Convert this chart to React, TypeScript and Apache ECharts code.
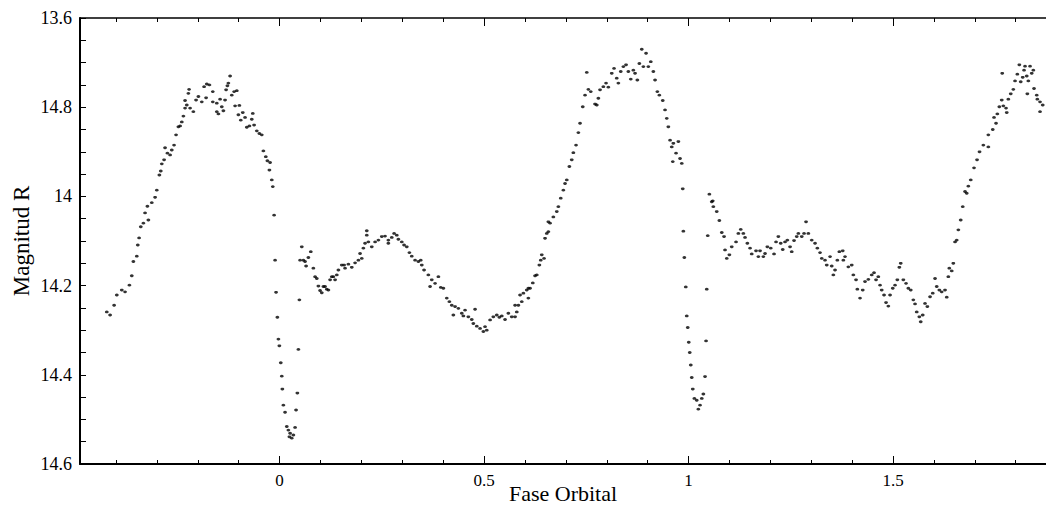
import React, { useEffect, useRef } from "react";
import * as echarts from "echarts";

// Tick labels (as printed on the reference)
const yTickLabels = ["13.6", "14.8", "14", "14.2", "14.4", "14.6"];
const xMajorTicks = [0, 0.5, 1, 1.5];
const xMinorTicks = [-0.4, -0.3, -0.2, -0.1, 0, 0.1, 0.2, 0.3, 0.4, 0.5, 0.6, 0.7, 0.8, 0.9, 1, 1.1, 1.2, 1.3, 1.4, 1.5, 1.6, 1.7, 1.8];

// Observations [orbital phase, R magnitude]
const firstMaximum: [number, number][] = [
  [-0.4225, 14.259], [-0.4144, 14.266], [-0.4046, 14.244], [-0.398, 14.221], [-0.3858, 14.21], [-0.3778, 14.214],
  [-0.3672, 14.199], [-0.3614, 14.178], [-0.3575, 14.146], [-0.3491, 14.134], [-0.3467, 14.109], [-0.3435, 14.093],
  [-0.3394, 14.068], [-0.333, 14.06], [-0.3289, 14.037], [-0.3208, 14.053], [-0.3232, 14.022], [-0.3125, 14.014],
  [-0.3044, 14.002], [-0.3002, 13.986], [-0.2939, 13.952], [-0.2905, 13.943], [-0.288, 13.927], [-0.2824, 13.918],
  [-0.28, 13.891], [-0.2743, 13.903], [-0.2677, 13.907], [-0.2636, 13.896], [-0.258, 13.885], [-0.2531, 13.862],
  [-0.2474, 13.844], [-0.2433, 13.842], [-0.2391, 13.833], [-0.2352, 13.82], [-0.2311, 13.802], [-0.2269, 13.795],
  [-0.2311, 13.785], [-0.223, 13.769], [-0.2213, 13.76], [-0.2188, 13.802], [-0.2108, 13.81], [-0.2042, 13.784],
  [-0.1985, 13.776], [-0.1902, 13.788], [-0.1846, 13.754], [-0.178, 13.748], [-0.1716, 13.75], [-0.1797, 13.779],
  [-0.1633, 13.765], [-0.1633, 13.788], [-0.1535, 13.791], [-0.1535, 13.81], [-0.1496, 13.815], [-0.1455, 13.782],
  [-0.1413, 13.799], [-0.1374, 13.808], [-0.1333, 13.784], [-0.1308, 13.761], [-0.1276, 13.752], [-0.1252, 13.746],
  [-0.121, 13.73], [-0.1169, 13.773], [-0.1112, 13.765], [-0.1046, 13.763], [-0.1088, 13.797], [-0.0983, 13.796],
  [-0.1007, 13.817], [-0.0949, 13.829], [-0.09, 13.812], [-0.0844, 13.823], [-0.0802, 13.845], [-0.0738, 13.842],
  [-0.068, 13.827], [-0.0655, 13.814], [-0.0623, 13.84], [-0.0557, 13.853], [-0.0494, 13.859], [-0.0435, 13.862],
  [-0.0396, 13.898], [-0.0337, 13.911], [-0.0298, 13.92], [-0.0232, 13.924], [-0.0249, 13.941], [-0.0191, 13.963],
  [-0.0166, 13.978],
];

const primaryEclipse: [number, number][] = [
  [-0.0134, 14.042], [-0.011, 14.143], [-0.0086, 14.215], [-0.0054, 14.271], [-0.0029, 14.32], [-0.0005, 14.335],
  [0.0029, 14.373], [0.0054, 14.403], [0.0068, 14.432], [0.0093, 14.468], [0.0134, 14.484], [0.0176, 14.516],
  [0.0215, 14.524], [0.0257, 14.531], [0.0298, 14.542], [0.024, 14.539], [0.0337, 14.535], [0.0379, 14.518],
  [0.0403, 14.479], [0.0435, 14.441], [0.046, 14.343], [0.0484, 14.232],
];

const firstPlateau: [number, number][] = [
  [0.0543, 14.113], [0.0501, 14.143], [0.0582, 14.143], [0.0623, 14.146], [0.0763, 14.124], [0.0704, 14.137],
  [0.0648, 14.156], [0.0826, 14.161], [0.0868, 14.18], [0.091, 14.184], [0.0949, 14.201], [0.099, 14.211],
  [0.1032, 14.216], [0.1071, 14.202], [0.1112, 14.202], [0.1154, 14.208], [0.1193, 14.21], [0.1235, 14.187],
  [0.1276, 14.18], [0.1315, 14.18], [0.1357, 14.187], [0.1399, 14.176], [0.1438, 14.165], [0.1521, 14.154],
  [0.1577, 14.154], [0.1601, 14.161], [0.1682, 14.152], [0.1765, 14.159], [0.1846, 14.149], [0.1927, 14.143],
  [0.1968, 14.128], [0.201, 14.139], [0.2049, 14.116], [0.209, 14.105], [0.2132, 14.087], [0.2132, 14.077],
  [0.2171, 14.102], [0.2254, 14.113], [0.2335, 14.102], [0.2416, 14.098], [0.2499, 14.09], [0.2579, 14.089],
  [0.266, 14.098], [0.266, 14.105], [0.2743, 14.092], [0.28, 14.083], [0.2866, 14.087], [0.2905, 14.096],
  [0.2988, 14.102], [0.3044, 14.109], [0.311, 14.113], [0.3174, 14.126], [0.3232, 14.134], [0.3313, 14.143],
  [0.3394, 14.146], [0.3477, 14.154], [0.3452, 14.143], [0.3533, 14.165], [0.3638, 14.176], [0.3721, 14.187],
  [0.368, 14.202], [0.3802, 14.195], [0.3883, 14.18], [0.3941, 14.204], [0.4005, 14.206], [0.4088, 14.228],
  [0.4152, 14.236], [0.421, 14.244], [0.4291, 14.247], [0.4249, 14.266], [0.4372, 14.251], [0.4455, 14.262],
  [0.4535, 14.255], [0.4494, 14.268], [0.4616, 14.27], [0.4699, 14.276], [0.478, 14.253], [0.4738, 14.285],
  [0.4822, 14.291], [0.4902, 14.296], [0.4983, 14.303], [0.5066, 14.3], [0.5024, 14.292], [0.5147, 14.277],
  [0.5227, 14.27], [0.5311, 14.266], [0.5374, 14.271], [0.5433, 14.268], [0.5513, 14.276], [0.5594, 14.262],
  [0.5677, 14.27], [0.5758, 14.27], [0.5758, 14.244], [0.58, 14.259], [0.5839, 14.244], [0.588, 14.221],
  [0.5922, 14.236], [0.5961, 14.217], [0.6044, 14.21], [0.6083, 14.206], [0.6083, 14.228], [0.6125, 14.206],
  [0.6191, 14.194], [0.6247, 14.178], [0.6289, 14.176], [0.6352, 14.154], [0.6386, 14.143], [0.6411, 14.131],
  [0.6467, 14.139],
];

const secondMaximum: [number, number][] = [
  [0.6491, 14.094], [0.6533, 14.083], [0.6572, 14.057], [0.6572, 14.079], [0.6614, 14.06], [0.6694, 14.046],
  [0.6778, 14.034], [0.6817, 14.023], [0.6875, 14.004], [0.6939, 13.986], [0.698, 13.971], [0.7022, 13.963],
  [0.7086, 13.933], [0.7144, 13.918], [0.7183, 13.902], [0.7249, 13.885], [0.7306, 13.857], [0.7347, 13.836],
  [0.7413, 13.799], [0.7469, 13.773], [0.7511, 13.722], [0.755, 13.76], [0.7609, 13.765], [0.7714, 13.793],
  [0.7756, 13.795], [0.7795, 13.78], [0.7836, 13.761], [0.7917, 13.754], [0.7983, 13.746], [0.8039, 13.755],
  [0.8122, 13.724], [0.8178, 13.713], [0.8244, 13.735], [0.8284, 13.746], [0.8342, 13.72], [0.8406, 13.709],
  [0.8472, 13.705], [0.8528, 13.72], [0.8587, 13.737], [0.865, 13.717], [0.8692, 13.724], [0.8748, 13.739],
  [0.8797, 13.702], [0.8856, 13.67], [0.8895, 13.709], [0.8961, 13.679], [0.9017, 13.709], [0.9076, 13.698],
  [0.9139, 13.72], [0.9181, 13.739], [0.9237, 13.765], [0.9286, 13.773], [0.9369, 13.785], [0.9425, 13.806],
  [0.9467, 13.825], [0.9506, 13.844], [0.9548, 13.874], [0.9589, 13.889], [0.9628, 13.881], [0.9694, 13.903],
  [0.9751, 13.877], [0.9614, 13.922], [0.9792, 13.915], [0.9834, 13.926], [0.9858, 13.983],
];

const secondEclipse: [number, number][] = [
  [0.9873, 14.078], [0.9897, 14.137], [0.9932, 14.203], [0.9956, 14.268], [0.998, 14.294], [1.0005, 14.327],
  [1.0029, 14.35], [1.0054, 14.378], [1.0078, 14.406], [1.0103, 14.432], [1.0142, 14.453], [1.02, 14.457],
  [1.0239, 14.477], [1.0281, 14.468], [1.0323, 14.453], [1.0362, 14.443], [1.0403, 14.404], [1.0428, 14.324],
  [1.0445, 14.208], [1.0469, 14.088],
];

const secondPlateau: [number, number][] = [
  [1.0509, 13.995], [1.0567, 14.012], [1.0606, 14.023], [1.0592, 14.01], [1.0689, 14.034], [1.0753, 14.054],
  [1.0812, 14.081], [1.0868, 14.09], [1.0892, 14.12], [1.0934, 14.139], [1.0998, 14.131], [1.1056, 14.113],
  [1.1161, 14.102], [1.1218, 14.083], [1.1276, 14.074], [1.134, 14.083], [1.1381, 14.092], [1.1438, 14.105],
  [1.1504, 14.116], [1.1545, 14.129], [1.165, 14.122], [1.1707, 14.135], [1.1748, 14.122], [1.1829, 14.135],
  [1.187, 14.128], [1.1927, 14.113], [1.201, 14.116], [1.209, 14.129], [1.2139, 14.102], [1.2196, 14.09],
  [1.2254, 14.105], [1.2303, 14.119], [1.2359, 14.102], [1.2416, 14.098], [1.2482, 14.113], [1.2523, 14.124],
  [1.2579, 14.099], [1.2645, 14.09], [1.2685, 14.083], [1.2768, 14.09], [1.2873, 14.057], [1.2824, 14.083],
  [1.2929, 14.083], [1.3012, 14.098], [1.3093, 14.105], [1.3149, 14.116], [1.3215, 14.126], [1.3257, 14.139],
  [1.3337, 14.143], [1.3379, 14.154], [1.346, 14.135], [1.3501, 14.156], [1.354, 14.176], [1.3582, 14.165],
  [1.3638, 14.143], [1.3687, 14.124], [1.377, 14.122], [1.3826, 14.135], [1.3785, 14.143], [1.3907, 14.158],
  [1.399, 14.154], [1.4029, 14.176], [1.4095, 14.187], [1.4127, 14.208], [1.4193, 14.228], [1.4259, 14.21],
  [1.4315, 14.191], [1.4396, 14.186], [1.4479, 14.176], [1.4535, 14.171], [1.4584, 14.187], [1.464, 14.18],
  [1.4682, 14.199], [1.4723, 14.21], [1.478, 14.221], [1.4829, 14.238], [1.4885, 14.246], [1.4927, 14.221],
  [1.4993, 14.206], [1.5049, 14.199], [1.5105, 14.187], [1.5154, 14.159], [1.5188, 14.15], [1.5252, 14.187],
  [1.5318, 14.195], [1.5374, 14.206], [1.5433, 14.21], [1.5496, 14.232], [1.5538, 14.241], [1.5579, 14.259],
  [1.5643, 14.27], [1.5677, 14.281], [1.5726, 14.266], [1.5782, 14.24], [1.5839, 14.247], [1.5905, 14.225],
  [1.5971, 14.217], [1.6027, 14.184], [1.6068, 14.202], [1.6132, 14.21], [1.619, 14.214], [1.6271, 14.21],
  [1.6313, 14.226], [1.6352, 14.18], [1.6376, 14.161], [1.6435, 14.167], [1.6474, 14.15],
];

const thirdMaximum: [number, number][] = [
  [1.6516, 14.102], [1.6557, 14.098], [1.6597, 14.075], [1.6655, 14.053], [1.6704, 14.023], [1.676, 13.989],
  [1.6802, 13.993], [1.6841, 13.977], [1.69, 13.963], [1.698, 13.936], [1.7054, 13.918], [1.7115, 13.9],
  [1.7208, 13.885], [1.733, 13.889], [1.733, 13.862], [1.7438, 13.85], [1.7518, 13.836], [1.7469, 13.823],
  [1.755, 13.815], [1.7599, 13.799], [1.7658, 13.784], [1.7697, 13.797], [1.7763, 13.802], [1.778, 13.812],
  [1.7819, 13.782], [1.7878, 13.77], [1.7941, 13.76], [1.7983, 13.741], [1.8039, 13.726], [1.8088, 13.705],
  [1.8122, 13.743], [1.8171, 13.733], [1.8203, 13.717], [1.8227, 13.708], [1.8269, 13.73], [1.8308, 13.741],
  [1.835, 13.708], [1.8391, 13.724], [1.843, 13.717], [1.8284, 13.77], [1.8447, 13.758], [1.8513, 13.773],
  [1.8528, 13.782], [1.8594, 13.788], [1.866, 13.795], [1.8594, 13.81], [1.767, 13.724],
];

const observations = [
  ...firstMaximum, ...primaryEclipse, ...firstPlateau, ...secondMaximum,
  ...secondEclipse, ...secondPlateau, ...thirdMaximum,
];

const SERIF = "'Liberation Serif', 'DejaVu Serif', serif";

export default function App() {
  const ref = useRef<HTMLDivElement>(null);

  useEffect(() => {
    if (!ref.current) return;
    document.body.style.margin = "0";
    document.body.style.overflow = "hidden";
    document.documentElement.style.overflow = "hidden";
    const chart = echarts.init(ref.current, undefined, { renderer: "svg", width: 1046, height: 505 });
    const xMin = -0.488;
    const xMax = 1.874;
    const baseX = {
      type: "value" as const,
      min: xMin,
      max: xMax,
      gridIndex: 0,
      splitLine: { show: false },
    };
    chart.setOption({
      animation: false,
      backgroundColor: "#fff",
      grid: { left: 80, right: 0, top: 18, bottom: 41, containLabel: false, outerBoundsMode: "none" },
      xAxis: [
        {
          ...baseX,
          position: "bottom",
          axisLine: { show: true, onZero: false, lineStyle: { color: "#000", width: 2 } },
          axisTick: { show: true, inside: true, length: 8, customValues: xMajorTicks, lineStyle: { color: "#000", width: 1 } },
          axisLabel: {
            show: true,
            customValues: xMajorTicks,
            formatter: (v: number) => String(v),
            color: "#000",
            fontFamily: SERIF,
            fontSize: 17,
            margin: 8,
          },
          name: "Fase Orbital",
          nameLocation: "middle",
          nameGap: 19,
          nameMoveOverlap: false,
          nameTextStyle: { color: "#000", fontFamily: SERIF, fontSize: 22, lineHeight: 21 },
        },
        {
          ...baseX,
          position: "bottom",
          axisLine: { show: false },
          axisTick: { show: true, inside: true, length: 4, customValues: xMinorTicks, lineStyle: { color: "#000", width: 1 } },
          axisLabel: { show: false },
        },
        {
          ...baseX,
          position: "top",
          axisLine: { show: true, onZero: false, lineStyle: { color: "#000", width: 1.5 } },
          axisTick: { show: true, inside: true, length: 8, customValues: xMajorTicks, lineStyle: { color: "#000", width: 1 } },
          axisLabel: { show: false },
        },
        {
          ...baseX,
          position: "top",
          axisLine: { show: false },
          axisTick: { show: true, inside: true, length: 4, customValues: xMinorTicks, lineStyle: { color: "#000", width: 1 } },
          axisLabel: { show: false },
        },
      ],
      yAxis: {
        type: "value",
        inverse: true,
        min: 13.6,
        max: 14.6,
        interval: 0.2,
        axisLine: { show: true, onZero: false, lineStyle: { color: "#000", width: 2 } },
        axisTick: { show: true, inside: true, length: 6, lineStyle: { color: "#000", width: 1 } },
        minorTick: { show: true, splitNumber: 4, length: 6, lineStyle: { color: "#000", width: 1 } },
        splitLine: { show: false },
        minorSplitLine: { show: false },
        axisLabel: {
          color: "#000",
          fontFamily: SERIF,
          fontSize: 18,
          margin: 8,
          formatter: (v: number) => yTickLabels[Math.round((v - 13.6) / 0.2)] ?? "",
        },
        name: "Magnitud R",
        nameLocation: "middle",
        nameGap: 47,
        nameMoveOverlap: false,
        nameTextStyle: { color: "#000", fontFamily: SERIF, fontSize: 23 },
      },
      series: [
        {
          type: "scatter",
          xAxisIndex: 0,
          yAxisIndex: 0,
          data: observations,
          symbol: "circle",
          symbolSize: [3.8, 2.8],
          itemStyle: { color: "#000" },
          silent: true,
        },
      ],
    });
    return () => chart.dispose();
  }, []);

  return (
    <div
      ref={ref}
      style={{ position: "fixed", left: 0, top: 0, width: 1046, height: 505, background: "#fff", overflow: "hidden" }}
    />
  );
}
